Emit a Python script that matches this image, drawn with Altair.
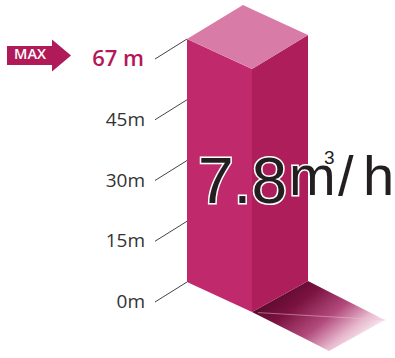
import altair as alt
import pandas as pd

# ---- data ----
tick_values = [0, 15, 30, 45, 67]
tick_labels = ["0m", "15m", "30m", "45m", "67 m"]
max_value = 67
badge_text = "MAX"
flow_text = "7.8"
unit_parts = ["m", "3", "/", "h"]

# ---- layout scales ----
W, HT = 395, 358
P = 60.75                      # pixels per tick step
ymin = -76 / P
ymax = ymin + HT / P
xs = alt.Scale(domain=[0, W], nice=False, zero=False)
ys = alt.Scale(domain=[ymin, ymax], nice=False, zero=False)

H = tick_values.index(max_value)       # bar reaches the max tick
L, wf, wr = 187, 65, 56                # box edges (x units)
df_ = 30 / P                           # front slant
dr = 34 / P                            # right slant (top)
drb = 31 / P                           # right slant (bottom)
cx, cs = 77, 39 / P                    # shadow extrusion

X = lambda f: alt.X(f, scale=xs, axis=None)
Y = lambda f: alt.Y(f, scale=ys, axis=None)

front = pd.DataFrame({"x": [L, L + wf], "y": [H, H - df_], "y2": [0, -df_]})
right = pd.DataFrame({"x": [L + wf, L + wf + wr], "y": [H - df_, H - df_ + dr],
                      "y2": [-df_, -df_ + drb]})
top = pd.DataFrame({
    "x": [L, L + wr, L + wf, L + wf + wr],
    "y": [H, H + dr, H + dr - df_ * (wf - wr) / wf, H - df_ + dr],
    "y2": [H, H - df_ * wr / wf, H - df_, H - df_ + dr],
})
ax, ay = L + wf, -df_
bx, by = L + wf + wr, -df_ + drb
shadow = pd.DataFrame({
    "x": [ax, bx, ax + cx, bx + cx],
    "y": [ay, by, by - cs * (ax + cx - bx) / cx, by - cs],
    "y2": [ay, ay - cs * (bx - ax) / cx, ay - cs, by - cs],
})
diag = pd.DataFrame({"x": [ax + 6], "y": [ay - 0.01], "x2": [bx + cx], "y2": [by - cs]})


def face(d, color):
    return alt.Chart(d).mark_area(color=color, interpolate="linear").encode(
        x=X("x:Q"), y=Y("y:Q"), y2=alt.Y2("y2:Q"))


grad = alt.Gradient(
    gradient="linear",
    stops=[alt.GradientStop(color="#4f0624", offset=0),
           alt.GradientStop(color="#7a1240", offset=0.3),
           alt.GradientStop(color="#b24a7c", offset=0.58),
           alt.GradientStop(color="#e7b8cd", offset=0.8),
           alt.GradientStop(color="#ffffff", offset=1)],
    x1=0.1, y1=0.1, x2=1, y2=0.7)

layers = [
    face(shadow, grad),
    alt.Chart(diag).mark_rule(color="#f0c0d5", strokeWidth=1, opacity=0.5).encode(
        x=X("x:Q"), y=Y("y:Q"), x2="x2:Q", y2="y2:Q"),
    face(front, "#c0296c"),
    face(right, "#ae1e5b"),
    face(top, "#d87ba6"),
]

# ticks
n = len(tick_values)
ticks = pd.DataFrame({
    "label": tick_labels,
    "lvl": list(range(n)),
    "x0": [155] * n, "x1": [L] * n,
})
ticks["y0"] = ticks["lvl"] - 20 / P
layers.append(alt.Chart(ticks).mark_rule(color="#444444", strokeWidth=1).encode(
    x=X("x0:Q"), x2="x1:Q", y=Y("y0:Q"), y2="lvl:Q"))
layers.append(alt.Chart(ticks[ticks["lvl"] < H]).mark_text(
    align="right", baseline="middle", font="Open Sans", fontSize=19, color="#333333"
).encode(x=alt.value(145), y=Y("y0:Q"), text="label:N"))
layers.append(alt.Chart(ticks[ticks["lvl"] == H]).mark_text(
    align="right", baseline="middle", font="Open Sans", fontSize=22, fontWeight=600,
    color="#b3175a").encode(x=alt.value(144), y=Y("y0:Q"), text="label:N"))

# MAX arrow badge
yc = H - 0.27
hb, hh = 9.5 / P, 16 / P
arrow = pd.DataFrame({
    "x": [7, 52, 52.01, 71],
    "y": [yc + hb, yc + hb, yc + hh, yc],
    "y2": [yc - hb, yc - hb, yc - hh, yc],
})
layers.append(face(arrow, "#b01a58"))
layers.append(alt.Chart(pd.DataFrame({"t": [badge_text], "y": [yc]})).mark_text(
    align="center", baseline="middle", font="Open Sans", fontWeight=600,
    fontSize=14.5, color="white").encode(x=alt.value(30), y=Y("y:Q"), text="t:N"))

# big flow text
big = [
    (flow_text, 198, 203, 64),
    (unit_parts[0], 289, 195, 56),
    (unit_parts[1], 324, 164, 19),
    (unit_parts[2], 338, 195, 56),
    (unit_parts[3], 363, 195, 56),
]
for t, x, y, s in big:
    d = pd.DataFrame({"t": [t]})
    layers.append(alt.Chart(d).mark_text(
        align="left", baseline="alphabetic", font="Liberation Sans", fontSize=s,
        color="white", stroke="white", strokeWidth=3).encode(
        x=alt.value(x), y=alt.value(y), text="t:N"))
    layers.append(alt.Chart(d).mark_text(
        align="left", baseline="alphabetic", font="Liberation Sans", fontSize=s,
        color="#231f20").encode(x=alt.value(x), y=alt.value(y), text="t:N"))

chart = alt.layer(*layers).properties(
    width=W, height=HT, padding=0, autosize=alt.AutoSizeParams(type="none"),
    background="white",
).configure_view(stroke=None)

chart.save("out.html", embed_options={"renderer": "svg", "actions": False})
